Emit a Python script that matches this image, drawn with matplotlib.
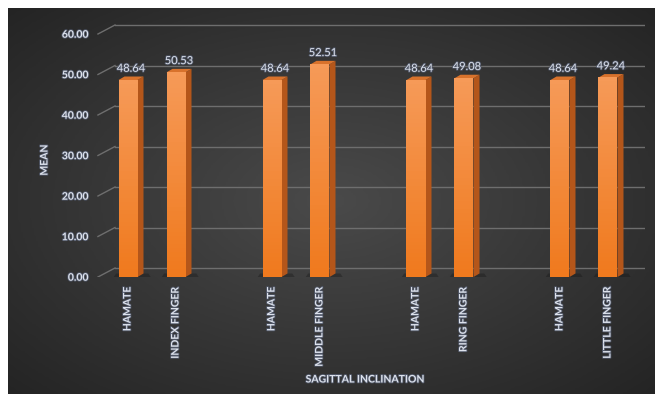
import numpy as np
import matplotlib
matplotlib.use('Agg')
from matplotlib import pyplot as plt
from matplotlib.patches import Polygon
from matplotlib.colors import LinearSegmentedColormap
import matplotlib.patheffects as pe

# Data
pairs = ['INDEX FINGER', 'MIDDLE FINGER', 'RING FINGER', 'LITTLE FINGER']
hamate_mean = [48.64, 48.64, 48.64, 48.64]
finger_mean = [50.53, 52.51, 49.08, 49.24]
y_ticks = [0, 10, 20, 30, 40, 50, 60]

labels = []
values = []
for name, h, f in zip(pairs, hamate_mean, finger_mean):
    labels += ['HAMATE', name]
    values += [h, f]

# slot positions: two bars then one empty slot
xpos = []
for i in range(len(pairs)):
    xpos += [3 * i, 3 * i + 1]
xpos = np.array(xpos)

W, H = 658, 394
fig = plt.figure(figsize=(W / 100, H / 100), dpi=100)
fig.patch.set_facecolor('white')

# dark gradient background panel
bg = fig.add_axes([8 / W, 0, (655 - 8) / W, (H - 8) / H])
yy, xx = np.mgrid[0:1:200j, 0:1:300j]
r = np.sqrt(((xx - 0.5) / 0.75) ** 2 + ((yy - 0.5) / 0.75) ** 2)
grad = np.clip(1 - r, 0, 1)
bg_cmap = LinearSegmentedColormap.from_list('bg', ['#222222', '#4a4a4a'])
bg.imshow(grad, cmap=bg_cmap, vmin=0, vmax=1, aspect='auto',
          extent=[0, 1, 0, 1], origin='lower')
bg.axis('off')

# main plot
px0, px1 = 97, 645
y0px, unit = 277, 4.05
ylim = (0, 63)
ax = fig.add_axes([px0 / W, (H - y0px) / H, (px1 - px0) / W,
                   ylim[1] * unit / H])
ax.set_facecolor('none')
ax.set_xlim((px0 - 128) / 48, (px1 - 128) / 48)
ax.set_ylim(*ylim)
for s in ax.spines.values():
    s.set_visible(False)
ax.set_xticks([])
ax.set_yticks([])

font = 'Lato'
txt_col = '#dde2ec'
glow = [pe.withStroke(linewidth=1.2, foreground='#4e5566')]

# back wall gridlines + perspective ticks
wall_x = (115 - 128) / 48
dy = 9 / unit
for t in y_ticks:
    ax.plot([wall_x, ax.get_xlim()[1]], [t + dy, t + dy], color='#6e6e6e', lw=1, zorder=1)
    ax.plot([ax.get_xlim()[0] + 0.02, wall_x], [t, t + dy], color='#6e6e6e', lw=1, zorder=1)
    ax.text(ax.get_xlim()[0] - 0.18, t - 0.3, f'{t:.2f}', ha='right', va='center',
            fontsize=7.5, fontweight='bold', color=txt_col, family=font,
            path_effects=glow)

# 3D-ish bars
bw = 19 / 48
dx = 6 / 48
dz = 3.5 / unit
for x, v in zip(xpos, values):
    left = x - bw / 2
    right = x + bw / 2
    # floor shadow
    ax.add_patch(Polygon([(left - 0.1, 0), (right + dx + 0.15, 0),
                          (right + dx + 0.1, dz), (left - 0.05, dz)],
                         closed=True, color='#151515', alpha=0.35, lw=0, zorder=2))
    ax.add_patch(Polygon([(right, 0), (right + dx, dz), (right + dx, v + dz), (right, v)],
                         closed=True, color='#b4561a', lw=0, zorder=3))
    ax.add_patch(Polygon([(left, v), (right, v), (right + dx, v + dz), (left + dx, v + dz)],
                         closed=True, color='#d8722c', lw=0, zorder=3))
ax.bar(xpos, values, width=bw, color='#f5832a', zorder=4)
# lighter upper part of the front face
grad_bar = np.linspace(0, 1, 50).reshape(-1, 1)
bar_cmap = LinearSegmentedColormap.from_list('o', ['#f07a1e', '#f69a58'])
for x, v in zip(xpos, values):
    ax.imshow(grad_bar, cmap=bar_cmap, extent=[x - bw / 2, x + bw / 2, 0, v],
              aspect='auto', origin='lower', zorder=4.5)
ax.set_xlim((px0 - 128) / 48, (px1 - 128) / 48)
ax.set_ylim(*ylim)

for x, v in zip(xpos, values):
    ax.text(x + dx / 2, v + 2.9, f'{v:.2f}', ha='center', va='center',
            fontsize=8, color=txt_col, family=font, path_effects=glow)

# category labels
for x, lab in zip(xpos, labels):
    ax.text(x, -2.4, lab, rotation=90, ha='center', va='top', fontsize=7.5,
            fontweight='bold', color=txt_col, family=font, path_effects=glow)

fig.text(365 / W, 1 - 380 / H, 'SAGITTAL INCLINATION', ha='center', va='center',
         fontsize=7.5, fontweight='bold', color=txt_col, family=font, path_effects=glow)
fig.text(45 / W, 1 - 160 / H, 'MEAN', ha='center', va='center', rotation=90,
         fontsize=7.5, fontweight='bold', color=txt_col, family=font, path_effects=glow)

fig.savefig('out.png', dpi=100)
